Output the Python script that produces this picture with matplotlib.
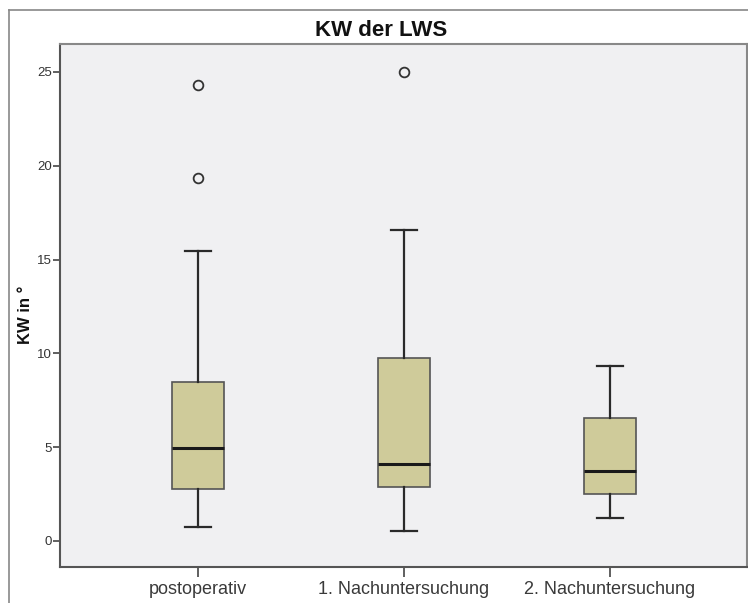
import matplotlib
matplotlib.use("Agg")
import matplotlib.pyplot as plt
from matplotlib.lines import Line2D

plt.rcParams['font.family'] = ['Liberation Sans', 'DejaVu Sans']

categories = ["postoperativ", "1. Nachuntersuchung", "2. Nachuntersuchung"]
whisker_low = [0.75, 0.55, 1.2]
q1 = [2.75, 2.85, 2.5]
median = [4.95, 4.1, 3.75]
q3 = [8.45, 9.75, 6.55]
whisker_high = [15.45, 16.55, 9.3]
outliers = [[19.35, 24.3], [25.0], []]
yticks = [0, 5, 10, 15, 20, 25]

W, H = 748, 603
fig = plt.figure(figsize=(W / 100, H / 100), dpi=100)
ax = fig.add_axes([60 / W, (H - 567) / H, (747 - 60) / W, (567 - 44) / H])
ax.set_facecolor('#F0F0F2')

stats = []
for i, c in enumerate(categories):
    stats.append(dict(label=c, whislo=whisker_low[i], q1=q1[i], med=median[i],
                      q3=q3[i], whishi=whisker_high[i], fliers=outliers[i]))

ax.bxp(stats, positions=[1, 2, 3], widths=0.25, patch_artist=True,
       boxprops=dict(facecolor='#CFCB9A', edgecolor='#555555', linewidth=1.2),
       medianprops=dict(color='#1a1a1a', linewidth=2.2),
       whiskerprops=dict(color='#2a2a2a', linewidth=1.6),
       capprops=dict(color='#2a2a2a', linewidth=1.6),
       capwidths=0.125,
       flierprops=dict(marker='o', markersize=7, markerfacecolor='none',
                       markeredgecolor='#333333', markeredgewidth=1.3))

ax.set_xlim(0.33, 3.665)
ax.set_ylim(-1.39, 26.49)
ax.set_yticks(yticks)
ax.set_yticklabels([str(v) for v in yticks], fontsize=9.5, color='#333333')
ax.set_xticks([1, 2, 3])
ax.set_xticklabels(categories, fontsize=13, color='#3a3a3a')
ax.tick_params(axis='y', length=5, width=1.2, color='#444444', pad=1)
ax.tick_params(axis='x', length=7, width=1.2, color='#444444', pad=3)

for s in ['left', 'bottom']:
    ax.spines[s].set_color('#555555')
    ax.spines[s].set_linewidth(1.5)
for s in ['top', 'right']:
    ax.spines[s].set_color('#888888')
    ax.spines[s].set_linewidth(1.5)

fig.text(25 / W, 1 - 315 / H, "KW in °", rotation=90, ha='center', va='center',
         fontsize=12, fontweight='bold', color='#111111')
fig.text(381.5 / W, 1 - 31 / H, "KW der LWS", ha='center', va='center',
         fontsize=16, fontweight='bold', color='#111111')

# outer frame lines
fig.add_artist(Line2D([8.5 / W, 8.5 / W], [0, 1 - 9.5 / H], transform=fig.transFigure,
                      color='#888888', linewidth=1.2))
fig.add_artist(Line2D([8.5 / W, 1], [1 - 9.5 / H, 1 - 9.5 / H], transform=fig.transFigure,
                      color='#888888', linewidth=1.2))

fig.savefig('out.png', dpi=100)
